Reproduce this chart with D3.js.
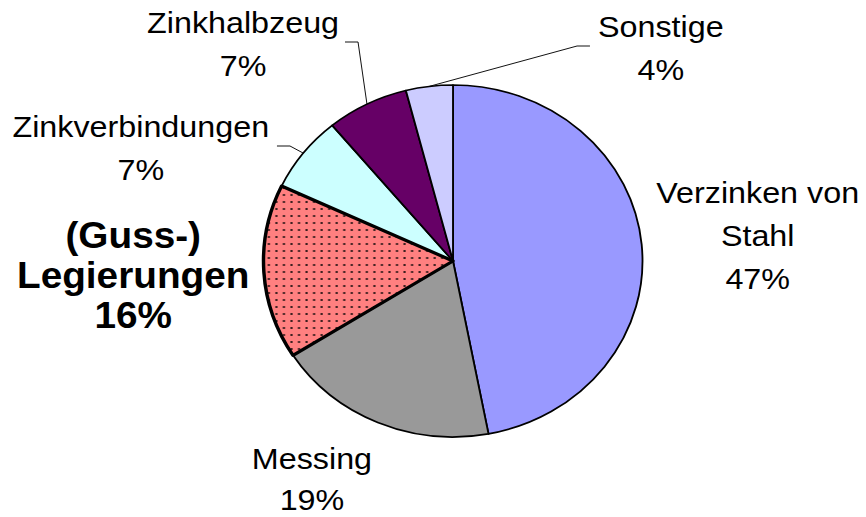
<!DOCTYPE html>
<html>
<head>
<meta charset="utf-8">
<script src="https://cdn.jsdelivr.net/npm/d3@7"></script>
<style>
  body { margin: 0; background: #fff; }
  svg { display: block; }
</style>
</head>
<body>
<svg id="chart" width="866" height="517"></svg>
<script>
// data
var categories = ["Verzinken von Stahl", "Messing", "(Guss-) Legierungen", "Zinkverbindungen", "Zinkhalbzeug", "Sonstige"];
var values = [47, 19, 16, 7, 7, 4];
var labelLines = [
    ["Verzinken von", "Stahl", "47%"],
    ["Messing", "19%"],
    ["(Guss-)", "Legierungen", "16%"],
    ["Zinkverbindungen", "7%"],
    ["Zinkhalbzeug", "7%"],
    ["Sonstige", "4%"]
];
var colors = ["#9999ff", "#999999", "url(#dots)", "#ccffff", "#660066", "#ccccff"];

// layout (label anchors relative to pie centre, before horizontal stretch)
var cx = 453, cy = 261, r = 176, sx = 1.0767;
var labelPos = [[283, -58], [-131, 208], [-297, -13], [-290, -124], [-195, -228], [193, -224]];
var leaders = {3: [[-163.5, -115], [-151.4, -115]], 4: [[-100.3, -219], [-88.2, -219]], 5: [[127.2, -215], [115.2, -215]]};

var svg = d3.select("#chart");

var pattern = svg.append("defs").append("pattern")
    .attr("id", "dots")
    .attr("patternUnits", "userSpaceOnUse")
    .attr("width", 7)
    .attr("height", 7);
pattern.append("rect").attr("width", 7).attr("height", 7).attr("fill", "#ff8080");
pattern.append("rect").attr("x", 3).attr("y", 3).attr("width", 2).attr("height", 2).attr("fill", "#3a1e1e");

var g = svg.append("g")
    .attr("transform", "translate(" + cx + "," + cy + ") scale(" + sx + ",1)");

var pie = d3.pie().sort(null).value(function(d) { return d; });
var arcs = pie(values);
var arc = d3.arc().innerRadius(0).outerRadius(r);
var edge = d3.arc().innerRadius(r).outerRadius(r);

// draw the bold slice last so its border sits on top
var order = [0, 1, 3, 4, 5, 2];
g.selectAll("path.slice")
    .data(order.map(function(i) { return {a: arcs[i], i: i}; }))
    .enter().append("path")
    .attr("class", "slice")
    .attr("d", function(d) { return arc(d.a); })
    .attr("fill", function(d) { return colors[d.i]; })
    .attr("stroke", "#000")
    .attr("stroke-width", function(d) { return d.i === 2 ? 3.2 : 1.7; })
    .attr("stroke-linejoin", "round");

// leader lines
Object.keys(leaders).forEach(function(k) {
    var pts = leaders[k].concat([edge.centroid(arcs[k])]);
    g.append("path")
        .attr("d", d3.line()(pts))
        .attr("fill", "none")
        .attr("stroke", "#000")
        .attr("stroke-width", 0.9);
});

// labels
labelLines.forEach(function(lines, i) {
    var bold = i === 2;
    var t = g.append("text")
        .attr("x", labelPos[i][0])
        .attr("y", labelPos[i][1])
        .attr("text-anchor", "middle")
        .attr("font-family", "'Liberation Sans', Arial, sans-serif")
        .attr("font-size", bold ? 36 : 30)
        .attr("font-weight", bold ? "bold" : "normal")
        .attr("fill", "#000");
    lines.forEach(function(s, j) {
        t.append("tspan")
            .attr("x", labelPos[i][0])
            .attr("dy", j === 0 ? 0 : (bold ? 40 : (i === 1 ? 41 : 43)))
            .text(s);
    });
});
</script>
</body>
</html>
